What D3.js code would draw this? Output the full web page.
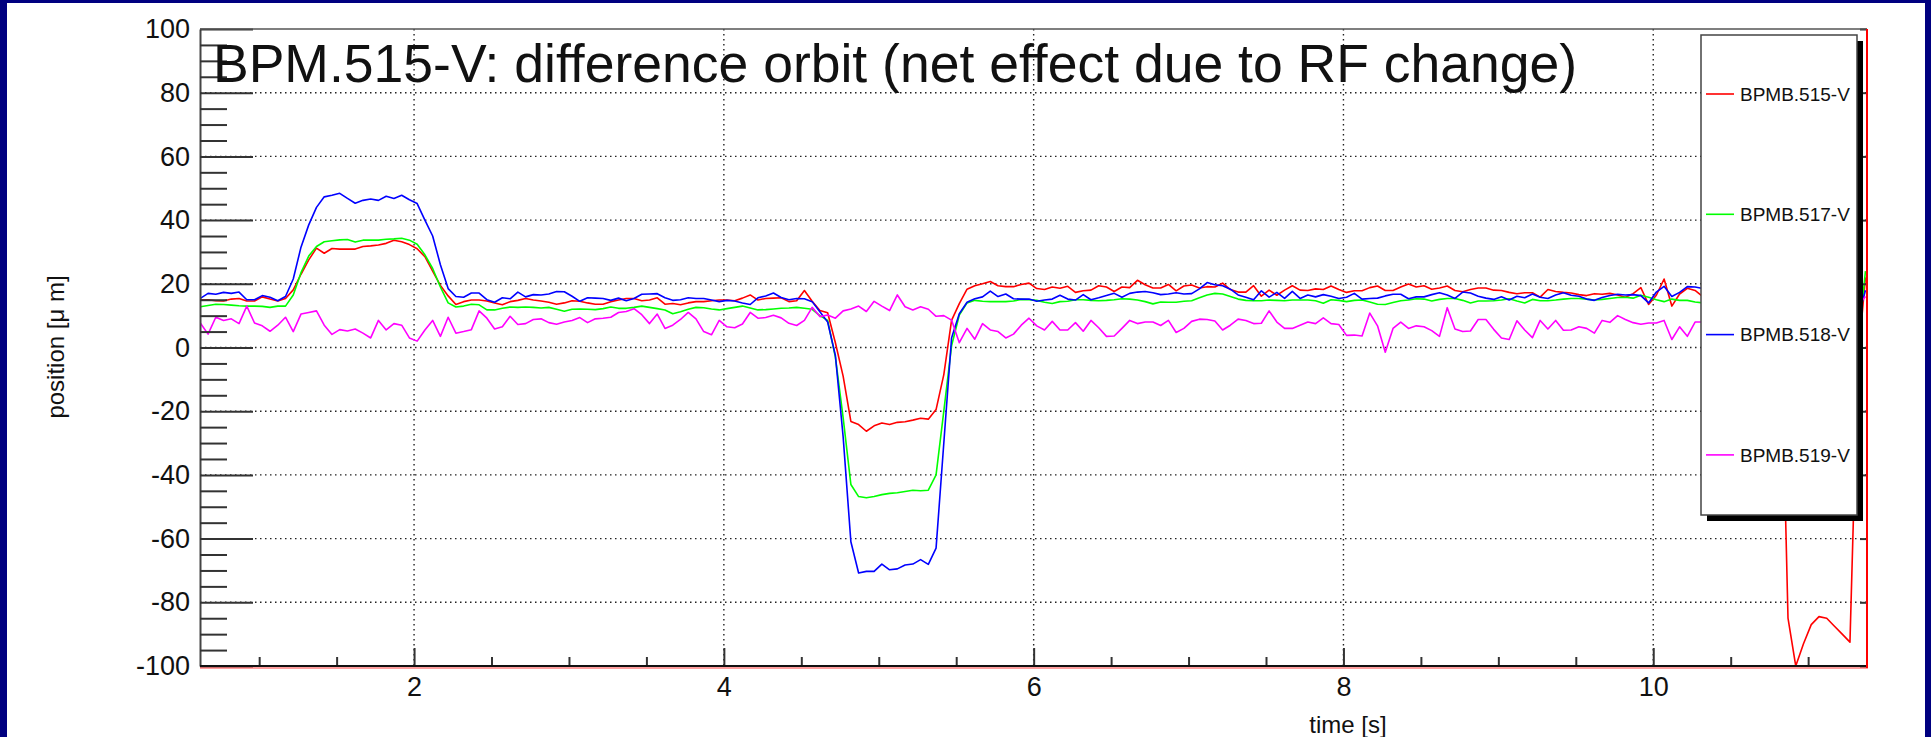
<!DOCTYPE html>
<meta charset="utf-8">

<!-- Load d3.js -->
<script src="https://d3js.org/d3.v7.min.js"></script>

<style>
  body { margin: 0; background: #000080; }
  text { font-family: "Liberation Sans", Arial, Helvetica, sans-serif; fill: #111; }
</style>

<!-- Create a div where the graph will take place -->
<div id="my_dataviz"></div>

<script>
    // readings are taken every 50 ms starting at t = 0.62 s
    var tStart = 0.62, tStep = 0.05;

    // difference orbit per BPM [um]
    var bpm515 = [
      14.9, 15.0, 14.7, 14.6, 15.2, 15.4, 14.6, 14.6, 15.9, 15.2,
      14.6, 15.4, 18.1, 23.0, 27.5, 31.2, 29.6, 31.1, 30.9, 30.9,
      30.9, 31.7, 31.9, 32.2, 32.7, 33.7, 33.2, 32.3, 31.0, 28.5,
      24.0, 19.5, 16.2, 13.5, 14.4, 14.9, 14.9, 14.6, 14.0, 13.4,
      14.4, 14.8, 15.4, 14.9, 14.6, 14.2, 13.6, 14.0, 14.7, 14.5,
      14.0, 13.6, 13.6, 14.4, 14.9, 15.4, 15.4, 14.7, 14.9, 15.6,
      13.6, 13.8, 13.4, 14.0, 14.4, 14.4, 14.7, 14.9, 14.9, 14.7,
      15.5, 16.5, 14.9, 15.4, 15.5, 15.6, 14.4, 14.7, 17.9, 14.5,
      11.6, 10.9, 1.5, -9.0, -23.2, -24.2, -26.3, -24.6, -23.7, -24.2,
      -23.5, -23.3, -22.8, -22.2, -22.5, -19.5, -8.5, 8.5, 13.8, 18.3,
      19.4, 20.0, 20.7, 19.4, 19.1, 19.1, 19.8, 20.2, 18.5, 18.2,
      19.0, 18.6, 19.2, 17.3, 17.8, 18.0, 19.4, 19.0, 17.6, 19.0,
      18.8, 21.1, 19.7, 18.7, 18.7, 19.8, 17.8, 19.3, 19.6, 18.7,
      19.1, 19.0, 20.2, 18.2, 17.4, 17.4, 19.4, 16.1, 18.0, 16.4,
      18.0, 19.4, 18.0, 17.9, 18.4, 18.2, 19.3, 18.2, 17.3, 17.8,
      17.8, 18.8, 19.3, 17.9, 17.9, 19.0, 19.9, 19.0, 19.4, 18.3,
      18.7, 19.3, 17.9, 17.5, 18.2, 18.7, 18.7, 18.0, 17.9, 17.3,
      16.9, 17.2, 17.2, 15.8, 18.2, 17.6, 17.3, 17.1, 16.6, 16.3,
      16.9, 16.7, 17.0, 16.5, 15.8, 16.9, 18.8, 13.5, 16.4, 21.5,
      13.0, 16.8, 18.6, 17.9, 16.0, 17.5, 18.0, 17.0, 18.0, 17.5,
      17.5, 18.0, 17.0, 18.0, 17.0, -85.0, -100.0, -93.0, -87.0, -84.5,
      -85.0, -87.5, -90.0, -92.5, -5.0, 22.0
    ];

    var bpm517 = [
      12.8, 13.2, 13.6, 13.5, 13.3, 13.1, 13.0, 13.0, 12.9, 12.6,
      13.0, 13.0, 16.5, 23.5, 28.7, 31.7, 33.2, 33.5, 33.8, 33.9,
      33.1, 33.7, 33.7, 33.7, 34.0, 34.1, 34.3, 33.7, 32.4, 29.1,
      24.8, 19.0, 14.0, 12.7, 13.0, 13.6, 13.4, 11.8, 11.8, 12.3,
      12.7, 12.6, 12.7, 12.6, 12.4, 12.6, 12.0, 11.4, 12.0, 12.1,
      12.0, 11.9, 12.2, 12.7, 12.3, 12.3, 12.6, 13.0, 12.6, 12.2,
      11.8, 10.6, 11.2, 12.0, 12.6, 12.5, 12.1, 11.8, 12.2, 12.6,
      13.0, 12.4, 11.8, 11.9, 12.1, 12.3, 12.4, 12.6, 12.3, 12.0,
      10.0, 8.5, -3.0, -22.0, -43.0, -46.8, -47.2, -46.8, -46.2, -45.8,
      -45.6, -45.2, -44.8, -45.0, -44.8, -40.0, -20.0, 0.5, 10.2, 14.0,
      14.8, 14.5, 14.4, 14.4, 14.4, 14.6, 15.1, 15.0, 14.8, 14.2,
      13.8, 14.4, 14.5, 15.0, 15.0, 14.8, 14.7, 14.8, 15.0, 15.3,
      15.2, 14.9, 14.4, 13.7, 14.3, 14.2, 14.2, 14.5, 14.7, 15.6,
      16.5, 17.0, 16.8, 16.0, 15.2, 14.8, 14.7, 14.7, 14.9, 14.8,
      14.7, 14.9, 14.9, 14.9, 14.7, 13.9, 15.0, 14.8, 14.4, 14.8,
      14.9, 14.3, 13.6, 13.5, 14.1, 14.7, 14.9, 15.3, 15.2, 14.6,
      15.1, 15.4, 15.4, 14.8, 14.0, 14.6, 14.6, 14.7, 14.9, 15.3,
      14.6, 14.0, 15.1, 14.7, 14.7, 14.9, 15.2, 15.4, 15.4, 15.2,
      14.9, 15.1, 15.4, 15.7, 15.8, 15.5, 16.4, 15.8, 15.0, 14.4,
      15.2, 14.8, 14.8, 14.3, 14.0, 14.5, 14.5, 14.0, 14.5, 14.5,
      14.0, 14.5, 14.5, 14.0, 14.5, 14.0, 14.5, 14.0, 14.5, 14.0,
      14.0, 14.5, 14.0, 14.5, 0.0, 24.0
    ];

    var bpm518 = [
      15.4, 17.0, 16.7, 17.3, 17.0, 17.4, 15.0, 15.0, 16.3, 15.8,
      14.7, 16.0, 21.5, 31.5, 38.5, 44.0, 47.3, 47.8, 48.4, 46.8,
      45.3, 46.2, 46.6, 46.2, 47.5, 46.8, 47.8, 46.4, 45.2, 40.0,
      35.0, 26.0, 18.5, 16.0, 15.8, 17.1, 17.1, 15.0, 14.2, 15.6,
      15.3, 17.4, 15.9, 16.6, 16.5, 16.8, 17.6, 17.5, 16.1, 14.5,
      15.6, 15.5, 15.4, 14.8, 15.5, 14.7, 15.4, 16.7, 16.8, 16.9,
      15.6, 14.8, 15.0, 15.6, 15.4, 15.4, 14.9, 14.4, 14.8, 14.6,
      14.0, 13.5, 15.6, 16.2, 17.1, 15.7, 15.0, 15.4, 15.3, 14.4,
      11.2, 8.0, -2.5, -28.0, -61.0, -70.8, -70.3, -70.3, -68.0, -69.8,
      -69.5, -68.3, -68.0, -66.6, -68.1, -63.0, -30.0, 3.0, 10.6, 14.2,
      15.3, 15.9, 17.7, 16.0, 16.8, 15.3, 15.2, 15.2, 14.5, 14.9,
      15.2, 16.4, 15.2, 14.9, 16.6, 15.0, 15.6, 16.3, 17.0, 15.8,
      17.0, 17.4, 17.6, 17.2, 16.6, 16.8, 17.2, 16.8, 16.9, 18.4,
      20.4, 19.7, 19.4, 18.3, 16.5, 15.8, 15.0, 17.8, 15.8, 17.3,
      15.4, 17.6, 15.4, 16.5, 15.9, 16.6, 16.1, 15.4, 15.8, 17.0,
      15.2, 15.4, 15.5, 16.2, 16.7, 16.7, 15.3, 15.9, 15.9, 16.6,
      17.2, 16.5, 15.4, 17.4, 17.1, 16.1, 15.5, 15.1, 15.9, 14.9,
      16.1, 15.6, 16.8, 15.8, 15.4, 16.5, 17.2, 16.4, 16.1, 15.2,
      14.8, 15.7, 16.3, 16.7, 16.5, 16.6, 16.3, 14.0, 17.4, 19.2,
      16.0, 17.3, 19.1, 19.0, 18.5, 18.0, 18.0, 17.5, 17.5, 17.0,
      17.0, 17.5, 17.0, 17.0, 16.5, 17.0, 16.5, 17.0, 17.0, 16.5,
      17.0, 16.5, 17.0, 16.5, 9.0, 18.0
    ];

    var bpm519 = [
      7.7, 4.2, 9.5, 8.5, 9.0, 7.5, 13.0, 7.7, 6.8, 5.1,
      7.0, 9.5, 5.0, 10.5, 11.0, 11.5, 7.0, 4.1, 5.6, 5.2,
      5.8, 4.5, 3.0, 8.5, 5.5, 7.5, 7.0, 3.0, 2.0, 5.5,
      8.5, 3.5, 9.5, 4.5, 5.0, 5.6, 11.5, 9.2, 5.8, 6.5,
      9.8, 7.2, 7.5, 8.8, 9.0, 7.8, 7.3, 8.0, 8.5, 9.4,
      7.8, 9.0, 9.2, 9.5, 11.0, 11.3, 12.2, 10.3, 7.5, 10.5,
      6.0, 7.0, 8.8, 11.0, 9.0, 5.0, 4.0, 8.5, 6.5, 6.2,
      7.4, 11.0, 9.2, 9.4, 10.1, 9.3, 7.6, 6.9, 8.5, 12.6,
      9.7, 10.2, 9.2, 11.5, 12.1, 13.0, 11.3, 14.5, 13.0, 11.6,
      16.5, 12.8, 11.8, 12.8, 12.0, 9.8, 10.0, 8.6, 1.5, 6.0,
      2.6, 7.5, 5.5, 5.0, 3.0, 4.2, 7.0, 9.2, 6.8, 5.5,
      8.2, 5.5, 5.5, 7.8, 5.1, 8.5, 6.2, 3.5, 3.6, 6.0,
      8.5, 7.5, 8.0, 8.0, 6.9, 8.5, 4.7, 6.0, 8.2, 8.9,
      8.8, 8.3, 5.5, 7.0, 8.9, 8.5, 7.5, 7.6, 11.5, 8.0,
      6.0, 6.0, 7.0, 8.0, 7.5, 9.3, 7.5, 7.2, 3.8, 3.9,
      3.6, 10.8, 6.8, -1.5, 6.0, 8.0, 6.0, 6.8, 6.5, 5.3,
      3.5, 12.5, 5.8, 5.0, 5.2, 8.8, 8.8, 5.7, 3.0, 2.5,
      8.4, 5.5, 3.1, 8.5, 5.8, 8.5, 5.4, 5.5, 6.5, 6.0,
      4.5, 8.5, 7.9, 10.0, 8.8, 7.8, 7.3, 7.7, 7.7, 8.5,
      2.5, 6.5, 3.5, 8.0, 8.0, 7.5, 8.0, 7.0, 8.0, 7.5,
      8.0, 7.5, 8.0, 7.0, 8.0, 7.5, 8.0, 7.5, 7.0, 8.0,
      7.5, 8.0, 7.0, 8.0, 13.0, 16.0
    ];

    var seriesData = [bpm515, bpm517, bpm518, bpm519];
    var seriesNames = ["BPMB.515-V", "BPMB.517-V", "BPMB.518-V", "BPMB.519-V"];
    var seriesColors = ["#ff0000", "#00ff00", "#0000ff", "#ff00ff"];

    var xMajor = [2, 4, 6, 8, 10];
    var xMinor = [1, 1.5, 2.5, 3, 3.5, 4.5, 5, 5.5, 6.5, 7, 7.5, 8.5, 9, 9.5, 10.5, 11];
    var yMajor = [-100, -80, -60, -40, -20, 0, 20, 40, 60, 80, 100];
    var yMinor = d3.range(-95, 100, 5).filter(function(v) { return v % 20 !== 0; });

    var title = "BPM.515-V: difference orbit (net effect due to RF change)";
    var xTitle = "time [s]";
    var yTitle = "position [\u03bc m]";

    // page and frame
    var W = 1931, H = 737;
    var frame = {left: 200, right: 1867, top: 29, bottom: 666};

    var svg = d3.select("#my_dataviz")
      .append("svg")
        .attr("width", W)
        .attr("height", H)
        .style("display", "block");

    svg.append("rect").attr("width", W).attr("height", H).attr("fill", "#000080");
    svg.append("rect").attr("x", 7).attr("y", 3).attr("width", 1918).attr("height", H - 3).attr("fill", "#ffffff");

    var x = d3.scaleLinear().domain([0.618, 11.38]).range([frame.left, frame.right]);
    var y = d3.scaleLinear().domain([-100, 100]).range([frame.bottom, frame.top]);

    // dotted grid
    var grid = svg.append("g").attr("stroke", "#222").attr("stroke-width", 1.4).attr("stroke-dasharray", "1.5,3.5");
    grid.selectAll("vline").data(xMajor).enter().append("line")
        .attr("x1", function(d) { return x(d); }).attr("x2", function(d) { return x(d); })
        .attr("y1", frame.top).attr("y2", frame.bottom);
    grid.selectAll("hline").data(yMajor.slice(1, -1)).enter().append("line")
        .attr("x1", frame.left).attr("x2", frame.right)
        .attr("y1", function(d) { return y(d); }).attr("y2", function(d) { return y(d); });

    // series lines, clipped to the frame
    svg.append("clipPath").attr("id", "frameclip")
      .append("rect")
        .attr("x", frame.left).attr("y", frame.top)
        .attr("width", frame.right - frame.left).attr("height", frame.bottom - frame.top);

    var line = d3.line()
        .x(function(d, i) { return x(tStart + i * tStep); })
        .y(function(d) { return y(d); });

    svg.append("g").attr("clip-path", "url(#frameclip)")
      .selectAll("path")
      .data(seriesData)
      .enter()
      .append("path")
        .attr("d", function(d) { return line(d); })
        .attr("fill", "none")
        .attr("stroke", function(d, i) { return seriesColors[i]; })
        .attr("stroke-width", 1.6)
        .attr("stroke-linejoin", "round");

    // y axis: long inward major ticks, short minor ticks
    var yAxis = svg.append("g")
        .attr("transform", "translate(" + frame.left + ",0)")
        .call(d3.axisLeft(y).tickValues(yMajor).tickSize(-53).tickSizeOuter(0).tickPadding(10)
              .tickFormat(function(d) { return String(d); }));
    yAxis.selectAll("text").style("font-size", "27px").attr("fill", "#111");
    svg.append("g")
        .attr("transform", "translate(" + frame.left + ",0)")
        .call(d3.axisLeft(y).tickValues(yMinor).tickSize(-27).tickSizeOuter(0).tickFormat(""))
        .select(".domain").remove();

    // short ticks on the right edge
    svg.append("g")
        .attr("transform", "translate(" + frame.right + ",0)")
        .call(d3.axisRight(y).tickValues(yMajor).tickSize(-7).tickSizeOuter(0).tickFormat(""))
        .select(".domain").remove();

    // x axis: inward ticks
    var xAxis = svg.append("g")
        .attr("transform", "translate(0," + frame.bottom + ")")
        .call(d3.axisBottom(x).tickValues(xMajor).tickSize(-18).tickSizeOuter(0).tickPadding(11)
              .tickFormat(function(d) { return String(d); }));
    xAxis.selectAll("text").style("font-size", "27px").attr("fill", "#111");
    xAxis.select(".domain").remove();
    svg.append("g")
        .attr("transform", "translate(0," + frame.bottom + ")")
        .call(d3.axisBottom(x).tickValues(xMinor).tickSize(-9).tickSizeOuter(0).tickFormat(""))
        .select(".domain").remove();

    svg.selectAll(".tick line").attr("stroke", "#333").attr("stroke-width", 2);
    yAxis.select(".domain").attr("stroke", "#444").attr("stroke-width", 2);

    // frame edges
    svg.append("line").attr("x1", frame.left).attr("x2", frame.right).attr("y1", frame.top).attr("y2", frame.top)
        .attr("stroke", "#555").attr("stroke-width", 1.5);
    svg.append("line").attr("x1", frame.left).attr("x2", frame.right + 1).attr("y1", frame.bottom + 2).attr("y2", frame.bottom + 2)
        .attr("stroke", "#ff4040").attr("stroke-width", 1.2);
    svg.append("line").attr("x1", frame.left).attr("x2", frame.right).attr("y1", frame.bottom).attr("y2", frame.bottom)
        .attr("stroke", "#111").attr("stroke-width", 2);
    svg.append("line").attr("x1", frame.right).attr("x2", frame.right).attr("y1", frame.top).attr("y2", frame.bottom + 2)
        .attr("stroke", "#ff0000").attr("stroke-width", 2);

    // legend with drop shadow
    var legend = svg.append("g");
    legend.append("rect").attr("x", 1707).attr("y", 41).attr("width", 156).attr("height", 480).attr("fill", "#000");
    legend.append("rect").attr("x", 1701).attr("y", 35).attr("width", 156).attr("height", 480)
        .attr("fill", "#fff").attr("stroke", "#444").attr("stroke-width", 1.5);

    var entry = legend.selectAll("entry")
      .data(seriesNames)
      .enter()
      .append("g")
        .attr("transform", function(d, i) { return "translate(0," + (94 + i * 120.3) + ")"; });
    entry.append("line")
        .attr("x1", 1706).attr("x2", 1734)
        .attr("stroke", function(d, i) { return seriesColors[i]; })
        .attr("stroke-width", 1.6);
    entry.append("text")
        .attr("x", 1740).attr("dy", "0.36em")
        .style("font-size", "19px").attr("fill", "#222")
        .text(function(d) { return d; });

    // titles
    svg.append("text")
        .attr("x", 213).attr("y", 82)
        .style("font-size", "53.5px")
        .text(title);

    svg.append("text")
        .attr("x", 1348).attr("y", 733)
        .attr("text-anchor", "middle")
        .style("font-size", "24px")
        .text(xTitle);

    svg.append("text")
        .attr("transform", "translate(64,347) rotate(-90)")
        .attr("text-anchor", "middle")
        .style("font-size", "24px")
        .text(yTitle);
</script>
